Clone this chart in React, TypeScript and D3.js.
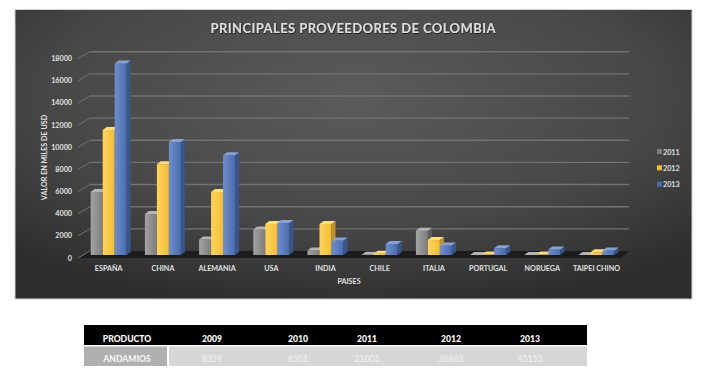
import React from "react";
import * as d3 from "d3";

const countries = ["ESPAÑA", "CHINA", "ALEMANIA", "USA", "INDIA", "CHILE", "ITALIA", "PORTUGAL", "NORUEGA", "TAIPEI CHINO"];
const seriesNames = ["2011", "2012", "2013"];
const values2011 = [5700, 3700, 1400, 2300, 400, 30, 2200, 10, 10, 10];
const values2012 = [11300, 8200, 5700, 2800, 2800, 120, 1350, 40, 40, 250];
const values2013 = [17300, 10200, 9000, 2900, 1300, 1000, 850, 600, 500, 400];
const yTicks = [0, 2000, 4000, 6000, 8000, 10000, 12000, 14000, 16000, 18000];

const tableYears = ["2009", "2010", "2011", "2012", "2013"];
const tableProduct = "ANDAMIOS";
const tableValues = [8359, 8501, 21001, 36863, 45155];

const palette = [
  { front0: "#a3a3a3", front1: "#7c7c7c", side: "#5e5e5e", top: "#b5b5b5" },
  { front0: "#ffd45c", front1: "#f2bd34", side: "#c2902a", top: "#ffdd7a" },
  { front0: "#6f8fcb", front1: "#4a6cb0", side: "#3a5589", top: "#86a2d6" },
];

const FONT = "Lato, 'Open Sans', sans-serif";

export default function App() {
  const W = 708, H = 385;
  const base = 255;
  const dx = 4, dy = -3;
  const y = d3.scaleLinear().domain([0, 18000]).range([base, base - 199.3]);
  const x = d3.scaleBand<string>().domain(countries).range([81.6, 623.6]).paddingInner(0.336).paddingOuter(0.168);
  const xs = d3.scaleBand<string>().domain(seriesNames).range([0, x.bandwidth()]);
  const series = [values2011, values2012, values2013];

  const frontL = 78, backL = 90, backR = 629, frontR = 621;
  const backOff = -4, frontOff = 3;

  const colCenters = [127, 212, 298, 367, 451, 530];

  return (
    <div style={{ position: "fixed", left: 0, top: 0 }}>
      <svg width={W} height={H} style={{ display: "block", background: "#fff" }}>
        <defs>
          <radialGradient id="bg" cx="0.5" cy="0.3" r="0.75">
            <stop offset="0" stopColor="#5b5b5b" />
            <stop offset="0.6" stopColor="#474747" />
            <stop offset="1" stopColor="#2c2c2c" />
          </radialGradient>
          {palette.map((p, i) => (
            <linearGradient key={i} id={`bar${i}`} x1="0" y1="0" x2="1" y2="0">
              <stop offset="0" stopColor={p.front0} />
              <stop offset="1" stopColor={p.front1} />
            </linearGradient>
          ))}
          <filter id="tshadow" x="-5%" y="-30%" width="110%" height="160%">
            <feDropShadow dx="0.6" dy="0.8" stdDeviation="0.6" floodColor="#000" floodOpacity="0.8" />
          </filter>
        </defs>

        <rect x={15} y={9.5} width={677} height={289.5} fill="url(#bg)" stroke="#d0d0d0" strokeWidth={1} />

        <text x={353} y={33} textAnchor="middle" fontFamily={FONT} fontWeight={700} fontSize={13}
          fill="#dedede" textLength={285} lengthAdjust="spacing" filter="url(#tshadow)">
          PRINCIPALES PROVEEDORES DE COLOMBIA
        </text>

        {/* floor */}
        <polygon
          points={`${frontL},${base + frontOff} ${backL},${base + backOff} ${backR},${base + backOff} ${frontR},${base + frontOff}`}
          fill="#1c1c1c"
        />

        {/* gridlines */}
        {yTicks.map((t) => (
          <g key={t}>
            {t > 0 && (
              <line x1={backL} x2={backR} y1={y(t) + backOff} y2={y(t) + backOff} stroke="#727272" strokeWidth={1.4} />
            )}
            <line x1={frontL} x2={backL} y1={y(t) + frontOff} y2={y(t) + backOff} stroke="#727272" strokeWidth={1} />
            <text x={72} y={y(t) + frontOff + 2.5} textAnchor="end" fontFamily={FONT} fontWeight={700} fontSize={7.2} fill="#e0e0e0">
              {t}
            </text>
          </g>
        ))}

        {/* bars */}
        {countries.map((c, ci) => (
          <g key={c}>
            {series.map((vals, si) => {
              const x0 = (x(c) ?? 0) + (xs(seriesNames[si]) ?? 0);
              const x1 = x0 + xs.bandwidth();
              const yt = y(vals[ci]);
              const p = palette[si];
              return (
                <g key={si}>
                  <rect x={x0} y={yt} width={x1 - x0} height={base - yt} fill={`url(#bar${si})`} />
                  <polygon points={`${x1},${yt} ${x1 + dx},${yt + dy} ${x1 + dx},${base + dy} ${x1},${base}`} fill={p.side} />
                  <polygon points={`${x0},${yt} ${x0 + dx},${yt + dy} ${x1 + dx},${yt + dy} ${x1},${yt}`} fill={p.top} />
                </g>
              );
            })}
            <text x={(x(c) ?? 0) + x.bandwidth() / 2} y={271} textAnchor="middle" fontFamily={FONT} fontWeight={700}
              fontSize={7.2} fill="#e0e0e0">
              {c}
            </text>
          </g>
        ))}

        <text x={349} y={283.5} textAnchor="middle" fontFamily={FONT} fontWeight={700} fontSize={7.2} fill="#e0e0e0">
          PAISES
        </text>
        <text transform="translate(46.5,157.5) rotate(-90)" textAnchor="middle" fontFamily={FONT} fontWeight={700}
          fontSize={7.2} fill="#e0e0e0">
          VALOR EN MILES DE USD
        </text>

        {/* legend */}
        {seriesNames.map((s, i) => (
          <g key={s} transform={`translate(657,${149 + i * 16.3})`}>
            <rect x={0} y={0} width={5} height={5} fill={palette[i].front1} />
            <text x={6} y={5.5} fontFamily={FONT} fontWeight={700} fontSize={7.2} fill="#e0e0e0">{s}</text>
          </g>
        ))}

        {/* table */}
        <rect x={84} y={325} width={503} height={20} fill="#000" />
        <rect x={84} y={345} width={503} height={1.5} fill="#fff" />
        <rect x={84} y={346.5} width={83} height={19.5} fill="#b0b0b0" />
        <rect x={169} y={346.5} width={418} height={19.5} fill="#d6d6d6" />
        <text x={colCenters[0]} y={342.3} textAnchor="middle" fontFamily={FONT} fontWeight={900} fontSize={8.6} fill="#fff">
          PRODUCTO
        </text>
        {tableYears.map((yr, i) => (
          <text key={yr} x={colCenters[i + 1]} y={342.3} textAnchor="middle" fontFamily={FONT} fontWeight={900}
            fontSize={8.6} fill="#fff">
            {yr}
          </text>
        ))}
        <text x={colCenters[0]} y={361.7} textAnchor="middle" fontFamily={FONT} fontWeight={900} fontSize={8.6} fill="#f4f4f4">
          {tableProduct}
        </text>
        {tableValues.map((v, i) => (
          <text key={i} x={colCenters[i + 1]} y={361.7} textAnchor="middle" fontFamily={FONT} fontSize={8.6} fill="#f4f4f4">
            {v}
          </text>
        ))}
      </svg>
    </div>
  );
}
